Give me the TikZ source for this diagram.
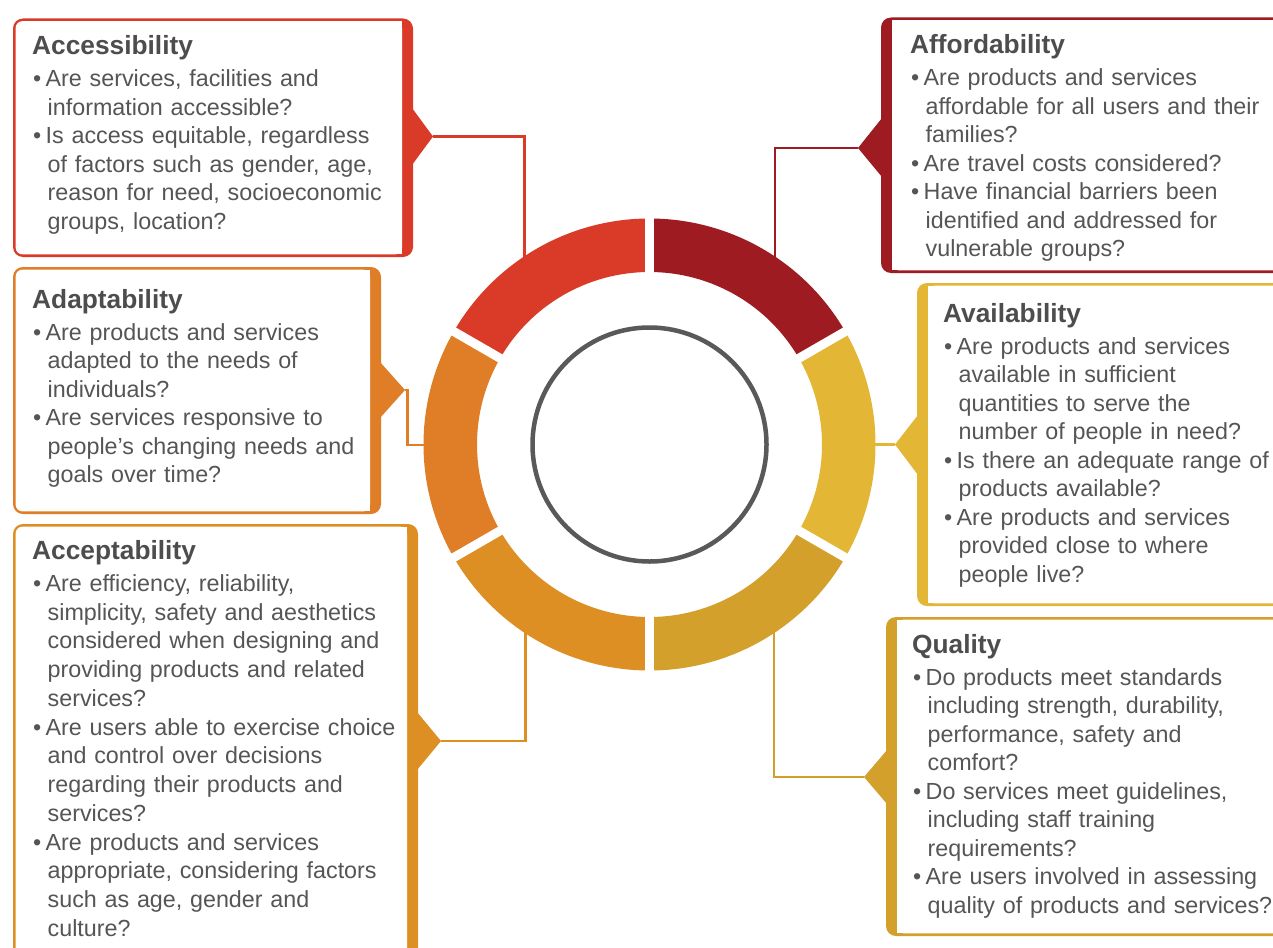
\documentclass[tikz,border=0pt]{standalone}
\usepackage{fontspec}
\setmainfont{Liberation Sans}
\usetikzlibrary{calc}
\definecolor{cAcc}{HTML}{DA3B28}
\definecolor{cAff}{HTML}{9E1C21}
\definecolor{cAva}{HTML}{E3B635}
\definecolor{cQua}{HTML}{D3A02B}
\definecolor{cAcp}{HTML}{DD8F24}
\definecolor{cAda}{HTML}{E07E28}
\definecolor{txtgrey}{HTML}{555555}
\definecolor{titlegrey}{HTML}{4D4D4D}
\definecolor{ringgrey}{HTML}{595959}
\newcommand\nl{\hfil\break}
\newcommand\bitem{\par\hangindent=15.5pt\hangafter=1\noindent\makebox[13.5pt][l]{\hspace{1pt}•}}
\newcommand\ttl[1]{{\fontsize{26.3}{28.5}\selectfont\bfseries\color{titlegrey}#1}\par\vspace{3.5pt}}
\newcommand\panelR[5]{%
  \fill[#1, rounded corners=10pt] (#2,#3) rectangle (#4,#5);
  \fill[white, rounded corners=7pt] (#2+2.6,#3+2.6) rectangle (#4-11,#5-2.6);
  \fill[white] (#4-18,#3+2.6) rectangle (#4-11,#5-2.6);
}
\newcommand\panelL[5]{%
  \fill[#1, rounded corners=10pt] (#2,#3) rectangle (#4,#5);
  \fill[white, rounded corners=7pt] (#2+11,#3+2.6) rectangle (#4-2.6,#5-2.6);
  \fill[white] (#2+11,#3+2.6) rectangle (#2+18,#5-2.6);
}
\tikzset{
  txtbox/.style={anchor=base west, inner sep=0pt, text width=400pt, text=txtgrey,
    font=\fontsize{23.3}{28.5}\selectfont},
  link/.style={line width=2.2pt},
}
\begin{document}
\begin{tikzpicture}[x=1pt, y=-1pt]
\useasboundingbox (0,0) rectangle (1273,947);
\clip (0,0) rectangle (1273,947);
\fill[white] (0,0) rectangle (1273,947);

% ---------- panels ----------
\panelR{cAcc}{13}{18.5}{413}{257}
\fill[cAcc] (412,108) -- (433,136.5) -- (412,165) -- cycle;
\coordinate (tA) at (433,136.5);

\panelL{cAff}{881}{17.5}{1300}{273}
\fill[cAff] (882,118) -- (858,148) -- (882,177) -- cycle;
\coordinate (tF) at (858,148);

\panelR{cAda}{13}{267}{381}{514}
\fill[cAda] (380,362) -- (405,390) -- (380,418) -- cycle;
\coordinate (tD) at (405,390);

\panelL{cAva}{917}{283}{1300}{606}
\fill[cAva] (918,415) -- (895,444.5) -- (918,475) -- cycle;
\coordinate (tV) at (895,444.5);

\panelR{cAcp}{13}{524}{418}{975}
\fill[cAcp] (417,712) -- (441,741) -- (417,770) -- cycle;
\coordinate (tC) at (441,741);

\panelL{cQua}{886}{617}{1300}{936}
\fill[cQua] (887,750) -- (864,777) -- (887,804) -- cycle;
\coordinate (tQ) at (864,777);

% ---------- ring end points ----------
\coordinate (rA) at (524.5,262);
\coordinate (rF) at (775,262);
\coordinate (rD) at (432,445);
\coordinate (rV) at (870,444.5);
\coordinate (rC) at (525.5,628);
\coordinate (rQ) at (774,628);

% ---------- connectors ----------
\draw[link, cAcc] (tA) -| (rA);
\draw[link, cAff] (tF) -| (rF);
\draw[link, cAda] (tD) -- ++(2.5,0) |- (rD);
\draw[link, cAva] (tV) -- (rV);
\draw[link, cAcp] (tC) -| (rC);
\draw[link, cQua] (tQ) -| (rQ);

% ---------- ring ----------
\begin{scope}[shift={(649.5,444.5)}, yscale=-1]
  \foreach \a/\b/\c in {90/150/cAcc, 30/90/cAff, -30/30/cAva, -90/-30/cQua, 210/270/cAcp, 150/210/cAda}
    \fill[\c] (\a:226) arc[start angle=\a, end angle=\b, radius=226]
      -- (\b:172.5) arc[start angle=\b, end angle=\a, radius=172.5] -- cycle;
  \foreach \a in {30,90,150}
    \draw[white, line width=9pt] (\a:230) -- (\a+180:230);
  \node[circle, draw=ringgrey, line width=4.5pt, minimum size=234pt, inner sep=0pt] (hub) at (0,0) {};
\end{scope}

% ---------- texts ----------
\node[txtbox] (accT) at (32,55) {\ttl{Accessibility}%
\bitem Are services, facilities and\nl information accessible?
\bitem Is access equitable, regardless\nl of factors such as gender, age,\nl reason for need, socioeconomic\nl groups, location?\par};

\node[txtbox] (affT) at (910,54) {\ttl{Affordability}%
\bitem Are products and services\nl affordable for all users and their\nl families?
\bitem Are travel costs considered?
\bitem Have financial barriers been\nl identified and addressed for\nl vulnerable groups?\par};

\node[txtbox] (adaT) at (32,308) {\ttl{Adaptability}%
\bitem Are products and services\nl adapted to the needs of\nl individuals?
\bitem Are services responsive to\nl people’s changing needs and\nl goals over time?\par};

\node[txtbox] (avaT) at (943,322) {\ttl{Availability}%
\bitem Are products and services\nl available in sufficient\nl quantities to serve the\nl number of people in need?
\bitem Is there an adequate range of\nl products available?
\bitem Are products and services\nl provided close to where\nl people live?\par};

\node[txtbox, font=\fontsize{23.3}{28.75}\selectfont] (acpT) at (32,559) {\ttl{Acceptability}%
\bitem Are efficiency, reliability,\nl simplicity, safety and aesthetics\nl considered when designing and\nl providing products and related\nl services?
\bitem Are users able to exercise choice\nl and control over decisions\nl regarding their products and\nl services?
\bitem Are products and services\nl appropriate, considering factors\nl such as age, gender and\nl culture?\par};

\node[txtbox] (quaT) at (912,653) {\ttl{Quality}%
\bitem Do products meet standards\nl including strength, durability,\nl performance, safety and\nl comfort?
\bitem Do services meet guidelines,\nl including staff training\nl requirements?
\bitem Are users involved in assessing\nl quality of products and services?\par};
\end{tikzpicture}
\end{document}
